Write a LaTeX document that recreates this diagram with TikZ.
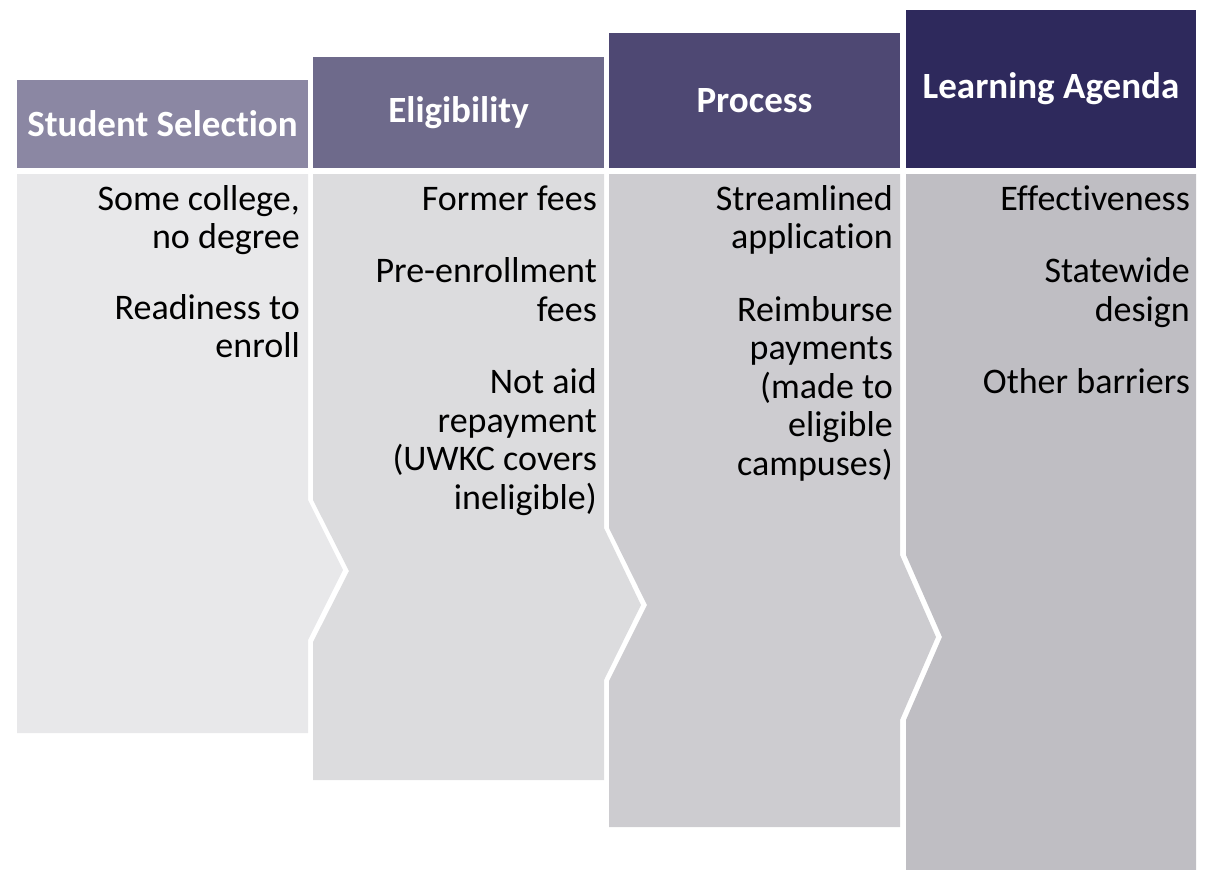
\documentclass[tikz,border=0pt]{standalone}
\usepackage{fontspec}
\setmainfont{Carlito}[Ligatures=NoCommon]
\definecolor{hA}{RGB}{139,135,163}
\definecolor{hB}{RGB}{110,106,139}
\definecolor{hC}{RGB}{78,72,115}
\definecolor{hD}{RGB}{46,41,92}
\definecolor{bA}{RGB}{232,232,234}
\definecolor{bB}{RGB}{220,220,222}
\definecolor{bC}{RGB}{205,204,208}
\definecolor{bD}{RGB}{191,190,195}
\newcommand{\topstrut}{\rule{0pt}{28pt}}
\tikzset{
  hdr/.style={draw=none, inner sep=0pt, minimum width=291pt, text=white,
    font=\fontsize{37}{42}\selectfont\bfseries},
  bodytext/.style={inner sep=0pt, align=right, anchor=north east, text=black,
    font=\fontsize{36}{38.5}\selectfont},
}
\begin{document}
\begin{tikzpicture}[x=1pt,y=-1pt]
\useasboundingbox (0,0) rectangle (1210,870);
% bodies
\fill[bA] (17,174) -- (308,174) -- (308,500) -- (343,570) -- (308,640) -- (308,733) -- (17,733) -- cycle;
\fill[bB] (313,174) -- (604,174) -- (604,528) -- (641,605) -- (604,680) -- (604,780) -- (313,780) -- (313,642) -- (349,571) -- (313,500) -- cycle;
\fill[bC] (609,174) -- (900,174) -- (900,555) -- (936,637) -- (900,720) -- (900,827) -- (609,827) -- (609,681) -- (647,605) -- (609,528) -- cycle;
\fill[bD] (906,174) -- (1196,174) -- (1196,870) -- (906,870) -- (906,720) -- (942,637) -- (906,555) -- cycle;
% headers
\node[hdr, fill=hA, minimum height=88pt] (h1) at (162.5,124) {Student Selection};
\node[hdr, fill=hB, minimum height=111pt] (h2) at (458.5,112.5) {Eligibility};
\node[hdr, fill=hC, minimum height=135pt] (h3) at (754.5,100.5) {Process};
\node[hdr, fill=hD, minimum height=158pt, minimum width=290pt] (h4) at (1051,89) {Learning Agenda};
% texts (first baseline at y = 210)
\node[bodytext] (t1) at (300,182) {\topstrut Some college,\\ no degree\\[32pt] Readiness to\\ enroll};
\node[bodytext] (t2) at (597,182) {\topstrut Former fees\\[34pt] Pre-enrollment\\ fees\\[34pt] Not aid\\ repayment\\ (UWKC covers\\ ineligible)};
\node[bodytext] (t3) at (893,182) {\topstrut Streamlined\\ application\\[34pt] Reimburse\\ payments\\ (made to\\ eligible\\ campuses)};
\node[bodytext] (t4) at (1190,182) {\topstrut Effectiveness\\[34pt] Statewide\\ design\\[34pt] Other barriers};
\end{tikzpicture}
\end{document}
